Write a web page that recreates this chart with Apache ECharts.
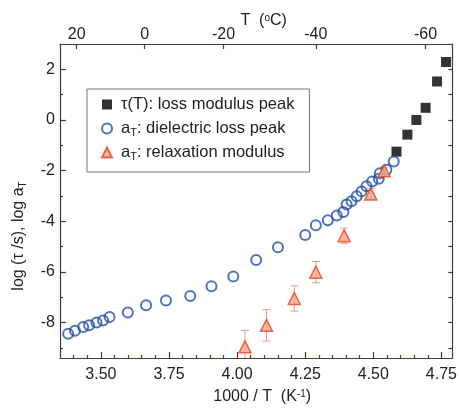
<!DOCTYPE html>
<html>
<head>
<meta charset="utf-8">
<script src="https://cdn.jsdelivr.net/npm/echarts@6/dist/echarts.min.js"></script>
<style>
  html, body { margin: 0; padding: 0; background: #fff; }
  #main { width: 460px; height: 410px; }
</style>
</head>
<body>
<div id="main"></div>
<script>
//数据 -- 从图上读出来的值
var tauX = [4.585, 4.625, 4.658, 4.692, 4.734, 4.767];
var tauY = [-1.25, -0.58, 0.0, 0.48, 1.52, 2.29];

var dielX = [3.380, 3.405, 3.435, 3.457, 3.484, 3.508, 3.532, 3.599, 3.666, 3.739,
             3.828, 3.906, 3.986, 4.070, 4.150, 4.250, 4.289, 4.333, 4.366, 4.390,
             4.402, 4.420, 4.439, 4.457, 4.475, 4.496, 4.520, 4.524, 4.548, 4.575];
var dielY = [-8.44, -8.32, -8.18, -8.11, -8.00, -7.92, -7.78, -7.60, -7.32, -7.13,
             -6.95, -6.57, -6.18, -5.53, -5.03, -4.54, -4.16, -3.96, -3.77, -3.63,
             -3.34, -3.21, -3.01, -2.82, -2.62, -2.43, -2.32, -2.10, -1.97, -1.64];

var relaxX = [4.029, 4.108, 4.210, 4.289, 4.393, 4.491, 4.540];
var relaxY = [-8.96, -8.11, -7.05, -6.01, -4.57, -2.92, -2.01];
var relaxErr = [0.65, 0.62, 0.50, 0.42, 0.30, 0.22, 0.12];

//刻度
var xMajor = [3.50, 3.75, 4.00, 4.25, 4.50, 4.75];
var xMinor = [3.40, 3.45, 3.55, 3.60, 3.65, 3.70, 3.80, 3.85, 3.90, 3.95, 4.05, 4.10,
              4.15, 4.20, 4.30, 4.35, 4.40, 4.45, 4.55, 4.60, 4.65, 4.70];
var tempLabels = [20, 0, -20, -40, -60];
var yMajor = [-8, -6, -4, -2, 0, 2];
var yMinor = [-9, -7, -5, -3, -1, 1];
var yRight = [-9, -8, -7, -6, -5, -4, -3, -2, -1, 0, 1, 2, 3];

var legendNames = {
  tau: '\u03c4(T): loss modulus peak',
  diel: 'a{sub|T}: dielectric loss peak',
  relax: 'a{sub|T}: relaxation modulus'
};

var FONT = 'Liberation Sans, Arial, sans-serif';
var AXIS_COLOR = '#4d3a30';
var TEXT_COLOR = '#222';
var X_MIN = 3.35, X_MAX = 4.79;
var Y_MIN = -9.4, Y_MAX = 3.0;

function zip(xs, ys) {
  var out = [];
  for (var i = 0; i < xs.length; i++) out.push([xs[i], ys[i]]);
  return out;
}

//摄氏度 -> 1000/T
var tempPos = tempLabels.map(function (t) { return 1000 / (t + 273.15); });

var errData = [];
for (var i = 0; i < relaxX.length; i++) {
  errData.push([relaxX[i], relaxY[i] - relaxErr[i], relaxY[i] + relaxErr[i]]);
}

var myChart = echarts.init(document.getElementById('main'));

var lineStyle = { color: AXIS_COLOR, width: 1.2 };

myChart.setOption({
  backgroundColor: '#fff',
  animation: false,
  textStyle: { fontFamily: FONT },
  grid: { left: 60, right: 5, top: 44, bottom: 48 },
  xAxis: [
    {
      //下轴 主刻度
      type: 'value', position: 'bottom', min: X_MIN, max: X_MAX,
      axisLine: { show: true, onZero: false, lineStyle: lineStyle },
      axisTick: { show: true, inside: true, length: 6, customValues: xMajor, lineStyle: lineStyle },
      axisLabel: {
        customValues: xMajor, margin: 9, fontSize: 16, color: TEXT_COLOR, fontFamily: FONT,
        formatter: function (v) { return v.toFixed(2); }
      },
      splitLine: { show: false },
      name: '1000 / T  (K{sup|-1})',
      nameLocation: 'middle', nameGap: 31,
      nameTextStyle: {
        fontSize: 16, color: TEXT_COLOR, fontFamily: FONT, padding: [0, 0, 0, 12],
        rich: { sup: { fontSize: 10, verticalAlign: 'top', color: TEXT_COLOR, fontFamily: FONT, lineHeight: 12 } }
      }
    },
    {
      //下轴 次刻度
      type: 'value', position: 'bottom', min: X_MIN, max: X_MAX,
      axisLine: { show: false, onZero: false },
      axisTick: { show: true, inside: true, length: 3, customValues: xMinor, lineStyle: lineStyle },
      axisLabel: { show: false },
      splitLine: { show: false }
    },
    {
      //上轴 温度
      type: 'value', position: 'top', min: X_MIN, max: X_MAX,
      axisLine: { show: true, onZero: false, lineStyle: lineStyle },
      axisTick: { show: true, inside: true, length: 5, customValues: tempPos, lineStyle: lineStyle },
      axisLabel: {
        customValues: tempPos, margin: 1, fontSize: 16, color: TEXT_COLOR, fontFamily: FONT,
        formatter: function (v) { return String(Math.round(1000 / v - 273.15)); }
      },
      splitLine: { show: false },
      name: 'T  ({sup|o}C)',
      nameLocation: 'middle', nameGap: 15, nameMoveOverlap: false,
      nameTextStyle: {
        fontSize: 16, color: TEXT_COLOR, fontFamily: FONT, padding: [0, 0, 0, 15],
        rich: { sup: { fontSize: 10, verticalAlign: 'top', color: TEXT_COLOR, fontFamily: FONT, lineHeight: 12 } }
      }
    }
  ],
  yAxis: [
    {
      type: 'value', position: 'left', min: Y_MIN, max: Y_MAX,
      axisLine: { show: true, onZero: false, lineStyle: lineStyle },
      axisTick: { show: true, inside: true, length: 6, customValues: yMajor, lineStyle: lineStyle },
      axisLabel: { customValues: yMajor, margin: 5, fontSize: 16, color: TEXT_COLOR, fontFamily: FONT },
      splitLine: { show: false }
    },
    {
      type: 'value', position: 'left', min: Y_MIN, max: Y_MAX,
      axisLine: { show: false, onZero: false },
      axisTick: { show: true, inside: true, length: 3, customValues: yMinor, lineStyle: lineStyle },
      axisLabel: { show: false },
      splitLine: { show: false }
    },
    {
      //右边框
      type: 'value', position: 'right', min: Y_MIN, max: Y_MAX,
      axisLine: { show: true, onZero: false, lineStyle: lineStyle },
      axisTick: { show: true, inside: true, length: 4, customValues: yRight, lineStyle: lineStyle },
      axisLabel: { show: false },
      splitLine: { show: false }
    }
  ],
  legend: {
    orient: 'vertical',
    left: 87, top: 89,
    padding: [6, 15, 10, 14],
    itemGap: 5,
    itemWidth: 10, itemHeight: 10,
    borderColor: '#777', borderWidth: 1, borderRadius: 0,
    data: ['tau', 'diel', 'relax'],
    formatter: function (name) { return legendNames[name]; },
    textStyle: {
      fontSize: 16.5, color: TEXT_COLOR, fontFamily: FONT, lineHeight: 19, padding: [0, 0, 0, 4],
      rich: { sub: { fontSize: 11, verticalAlign: 'bottom', lineHeight: 12, color: TEXT_COLOR, fontFamily: FONT } }
    }
  },
  graphic: [
    {
      //y轴标题
      type: 'text', x: 19, y: 236, rotation: Math.PI / 2,
      style: {
        text: 'log (\u03c4 /s), log a{sub|T}',
        fontSize: 16, fontFamily: FONT, fill: TEXT_COLOR,
        align: 'center', verticalAlign: 'middle', lineHeight: 18,
        rich: { sub: { fontSize: 10, verticalAlign: 'bottom', lineHeight: 11, fill: TEXT_COLOR, fontFamily: FONT } }
      }
    }
  ],
  series: [
    {
      name: 'tau', type: 'scatter', xAxisIndex: 0, yAxisIndex: 0,
      symbol: 'rect', symbolSize: 10,
      itemStyle: { color: '#000' },
      data: zip(tauX, tauY)
    },
    {
      name: 'diel', type: 'scatter', xAxisIndex: 0, yAxisIndex: 0,
      symbol: 'circle', symbolSize: 10,
      itemStyle: { color: 'rgba(255,255,255,0)', borderColor: '#2150a8', borderWidth: 2 },
      data: zip(dielX, dielY)
    },
    {
      //误差棒
      name: 'relaxErr', type: 'custom', xAxisIndex: 0, yAxisIndex: 0,
      renderItem: function (params, api) {
        var x = api.value(0);
        var lo = api.coord([x, api.value(1)]);
        var hi = api.coord([x, api.value(2)]);
        var cap = 4;
        var st = { stroke: '#eb9a80', lineWidth: 1 };
        return {
          type: 'group',
          children: [
            { type: 'line', shape: { x1: lo[0], y1: lo[1], x2: hi[0], y2: hi[1] }, style: st },
            { type: 'line', shape: { x1: lo[0] - cap, y1: lo[1], x2: lo[0] + cap, y2: lo[1] }, style: st },
            { type: 'line', shape: { x1: hi[0] - cap, y1: hi[1], x2: hi[0] + cap, y2: hi[1] }, style: st }
          ]
        };
      },
      encode: { x: 0, y: [1, 2] },
      clip: true,
      data: errData
    },
    {
      name: 'relax', type: 'scatter', xAxisIndex: 0, yAxisIndex: 0,
      symbol: 'triangle', symbolSize: 12,
      itemStyle: { color: '#f6a888', borderColor: '#e2472b', borderWidth: 1.5 },
      data: zip(relaxX, relaxY)
    }
  ]
});
</script>
</body>
</html>
